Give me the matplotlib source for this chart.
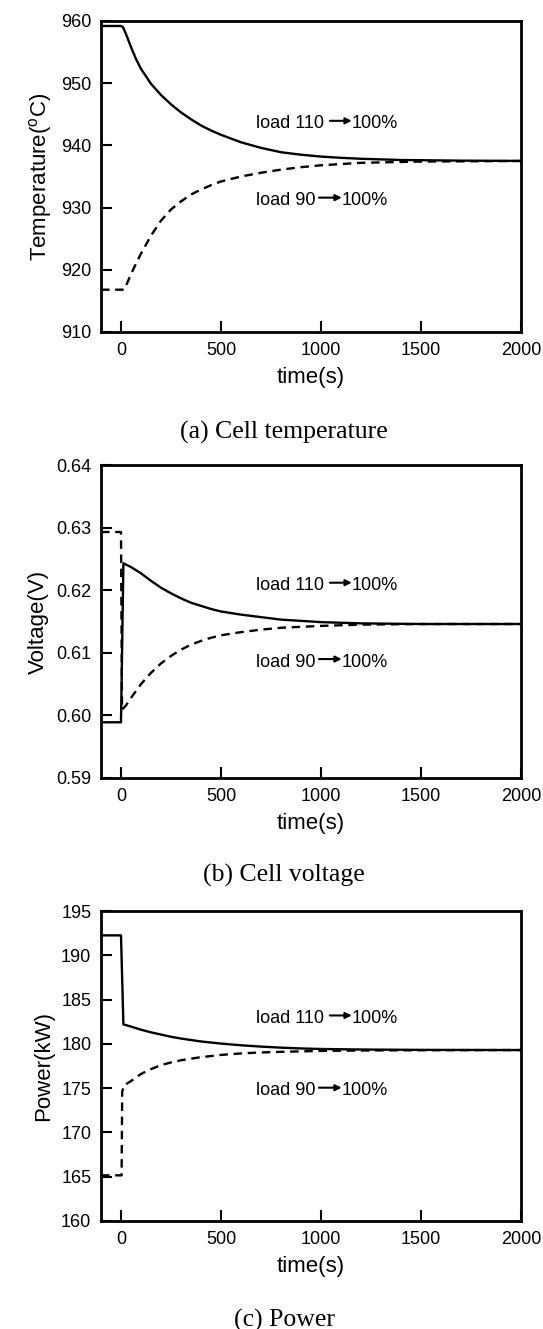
import matplotlib
matplotlib.use('Agg')
import matplotlib.pyplot as plt

plt.rcParams['font.family'] = ['Liberation Sans', 'DejaVu Sans']

# (a) cell temperature
t_temp_110 = [-100, 0, 10, 25, 50, 75, 100, 150, 200, 250, 300, 350, 400, 450, 500, 600, 700, 800, 900,
              1000, 1100, 1200, 1400, 1700, 2000]
temp_110 = [959.2, 959.2, 959.0, 957.9, 955.8, 953.9, 952.3, 949.9, 948.1, 946.6, 945.3, 944.2, 943.2,
            942.4, 941.7, 940.5, 939.6, 938.9, 938.5, 938.2, 938.0, 937.85, 937.65, 937.55, 937.5]
t_temp_90 = [-100, 15, 30, 50, 75, 100, 150, 200, 250, 300, 350, 400, 450, 500, 600, 700, 800, 900,
             1000, 1200, 1500, 2000]
temp_90 = [916.8, 916.8, 917.8, 919.3, 921.0, 922.6, 925.5, 927.9, 929.7, 931.0, 932.1, 932.9, 933.6,
           934.2, 935.0, 935.6, 936.1, 936.5, 936.8, 937.2, 937.4, 937.5]

# (b) cell voltage
t_volt_110 = [-100, 0, 12, 50, 100, 150, 200, 250, 300, 350, 400, 450, 500, 600, 700, 800, 900, 1000,
              1200, 1500, 2000]
volt_110 = [0.5989, 0.5989, 0.6243, 0.6237, 0.6227, 0.6215, 0.6204, 0.6195, 0.6187, 0.6180, 0.6175,
            0.6170, 0.6166, 0.6161, 0.6157, 0.6153, 0.6151, 0.6149, 0.6147, 0.6146, 0.6146]
t_volt_90 = [-100, 0, 5, 25, 50, 100, 150, 200, 250, 300, 350, 400, 450, 500, 600, 700, 800, 1000,
             1200, 1500, 2000]
volt_90 = [0.6293, 0.6293, 0.6009, 0.6016, 0.6028, 0.6050, 0.6068, 0.6083, 0.6095, 0.6105, 0.6113,
           0.6119, 0.6124, 0.6128, 0.6133, 0.6137, 0.6140, 0.6143, 0.6145, 0.6146, 0.6146]

# (c) power
t_pow_110 = [-100, 0, 12, 50, 100, 150, 200, 250, 300, 400, 500, 600, 700, 800, 900, 1000, 1200, 1500, 2000]
pow_110 = [192.25, 192.25, 182.2, 181.95, 181.6, 181.3, 181.05, 180.8, 180.6, 180.27, 180.03, 179.84,
           179.69, 179.57, 179.48, 179.42, 179.36, 179.32, 179.3]
t_pow_90 = [-100, 3, 6, 15, 50, 100, 150, 200, 250, 300, 400, 500, 600, 700, 800, 1000, 1200, 1500, 2000]
pow_90 = [165.15, 165.15, 174.6, 175.3, 175.8, 176.6, 177.15, 177.6, 177.9, 178.15, 178.5, 178.75,
          178.92, 179.03, 179.1, 179.2, 179.25, 179.28, 179.3]

x_ticks = [0, 500, 1000, 1500, 2000]
ylabels = ['Temperature($\\mathregular{^o}$C)', 'Voltage(V)', 'Power(kW)']
captions = ['(a) Cell temperature', '(b) Cell voltage', '(c) Power']

fig = plt.figure(figsize=(5.43, 13.29), dpi=100)

# axes boxes [left, bottom, width, height] in figure fraction
boxes = [[0.186, 0.7502, 0.7735, 0.2340],
         [0.186, 0.4146, 0.7735, 0.2355],
         [0.186, 0.0813, 0.7735, 0.2332]]

panels = [
    (t_temp_110, temp_110, t_temp_90, temp_90, (910, 960), [910, 920, 930, 940, 950, 960], '%d',
     (0.655, 0.408)),
    (t_volt_110, volt_110, t_volt_90, volt_90, (0.59, 0.64), [0.59, 0.60, 0.61, 0.62, 0.63, 0.64], '%.2f',
     (0.600, 0.356)),
    (t_pow_110, pow_110, t_pow_90, pow_90, (160, 195), [160, 165, 170, 175, 180, 185, 190, 195], '%d',
     (0.639, 0.406)),
]

caption_y = [1 - 432 / 1329, 1 - 875 / 1329, 1 - 1320 / 1329]


def load_label(ax, y, num, a0, a1):
    ax.text(0.369, y, 'load %s' % num, transform=ax.transAxes, fontsize=13,
            ha='left', va='baseline')
    ax.annotate('', xy=(a1, y + 0.024), xytext=(a0, y + 0.024), xycoords='axes fraction',
                arrowprops=dict(arrowstyle='-|>', color='k', lw=1.5, mutation_scale=9,
                                shrinkA=0, shrinkB=0))
    ax.text(a1, y, '100%', transform=ax.transAxes, fontsize=13, ha='left', va='baseline')


for i, (tx1, y1, tx2, y2, ylim, yt, fmt, lab_y) in enumerate(panels):
    ax = fig.add_axes(boxes[i])
    ax.plot(tx1, y1, color='k', lw=1.7)
    ax.plot(tx2, y2, color='k', lw=1.7, dashes=(3.6, 2.4))
    ax.set_xlim(-100, 2000)
    ax.set_ylim(*ylim)
    ax.set_xticks(x_ticks)
    ax.set_yticks(yt)
    ax.set_yticklabels([fmt % v for v in yt])
    ax.tick_params(direction='in', length=8, width=1.5, labelsize=13, pad=7,
                   top=False, right=False)
    for s in ax.spines.values():
        s.set_linewidth(2.0)
    ax.set_xlabel('time(s)', fontsize=16, labelpad=6)
    ax.set_ylabel(ylabels[i], fontsize=16, labelpad=5)

    load_label(ax, lab_y[0], '110', 0.545, 0.597)
    load_label(ax, lab_y[1], '90', 0.519, 0.573)

    fig.text(284 / 543, caption_y[i], captions[i], ha='center', va='center',
             fontsize=18.5, family='Liberation Serif')

fig.savefig('out.png', dpi=100)
